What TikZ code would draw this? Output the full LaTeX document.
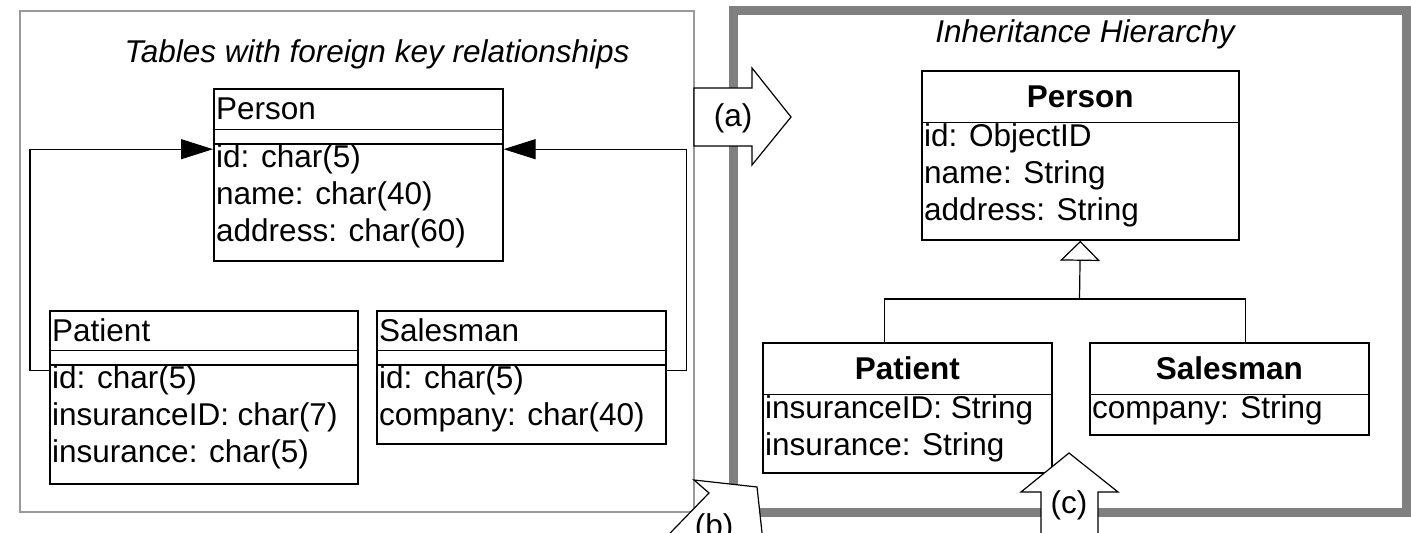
\documentclass[tikz,border=0pt]{standalone}
\usepackage{fontspec}
\setmainfont{Liberation Sans}
\usetikzlibrary{shapes.multipart,arrows.meta}
\newcommand{\namecell}[3]{\parbox[c][#2][c]{#1}{\hspace*{1.2pt}#3}}
\newcommand{\classcell}[3]{\parbox[c][#2][c]{#1}{\centering\bfseries #3}}
\newcommand{\emptycell}[2]{\parbox[c][#2][c]{#1}{}}
\newcommand{\attrcell}[3]{\parbox[c][#2][t]{#1}{\raggedright\leftskip=1.2pt #3}}

\begin{document}
\begin{tikzpicture}[
        x=0.5pt, y=-0.5pt,
        every node/.style={inner sep=0pt,font=\fontsize{15.75}{18.5}\selectfont},
        caption/.style={font=\fontsize{15.75}{18.5}\selectfont\itshape},
        relbox/.style={rectangle split, rectangle split parts=#1, draw, line width=0.8pt, anchor=north west},
        lframe/.style={draw=black!40, line width=0.8pt},
        rframe/.style={draw=gray, line width=4.5pt},
        fk/.style={line width=0.6pt, -{Triangle[length=16pt,width=10pt]}},
        gen/.style={line width=0.6pt},
        blockarrow/.style={draw, fill=white, line width=0.6pt},
      ]
      \useasboundingbox (0,0) rectangle (1411,533);
      \clip (0,0) rectangle (1411,533);

      % frames
      \draw[lframe] (20,11) rectangle (694,512);
      \draw[rframe] (733,11) rectangle (1406.5,512);
      \node[caption] (ltitle) at (377,54) {Tables with foreign key relationships};
      \node[caption] (rtitle) at (1085,34) {Inheritance Hierarchy};

      % relational tables
      \node[relbox=3] (lperson) at (213,88)
        {\namecell{144.5pt}{19.5pt}{Person}\nodepart{two}\emptycell{144.5pt}{6pt}%
         \nodepart{three}\attrcell{144.5pt}{57.5pt}{id: char(5)\\name: char(40)\\address: char(60)}};
      \node[relbox=3] (lpatient) at (49,310)
        {\namecell{154pt}{19pt}{Patient}\nodepart{two}\emptycell{154pt}{6pt}%
         \nodepart{three}\attrcell{154pt}{58.5pt}{id: char(5)\\insuranceID: char(7)\\insurance: char(5)}};
      \node[relbox=3] (lsalesman) at (376,310)
        {\namecell{144.5pt}{19pt}{Salesman}\nodepart{two}\emptycell{144.5pt}{6pt}%
         \nodepart{three}\attrcell{144.5pt}{38.5pt}{id: char(5)\\company: char(40)}};

      \draw[fk] ([yshift=-2.5pt]lpatient.two split west) -- ++(-19,0)
        |- ([yshift=-2.5pt]lperson.two split west);
      \draw[fk] ([yshift=-2.5pt]lsalesman.two split east) -- ++(20,0)
        |- ([yshift=-2.5pt]lperson.two split east);

      % classes
      \node[relbox=2] (rperson) at (921,70)
        {\classcell{158.5pt}{25pt}{Person}%
         \nodepart{two}\attrcell{158.5pt}{58pt}{id: ObjectID\\name: String\\address: String}};
      \node[relbox=2] (rpatient) at (762,342)
        {\classcell{144.5pt}{25pt}{Patient}%
         \nodepart{two}\attrcell{144.5pt}{38.5pt}{insuranceID: String\\insurance: String}};
      \node[relbox=2] (rsalesman) at (1089,342)
        {\classcell{139.5pt}{25pt}{Salesman}%
         \nodepart{two}\attrcell{139.5pt}{19.5pt}{company: String}};

      \coordinate (fork) at (1079.5,299);
      \draw[gen] ([xshift=-11.25pt]rpatient.north) |- (fork) -| ([xshift=8.25pt]rsalesman.north);
      \draw[gen, -{Triangle[open,length=10pt,width=20pt]}] (fork) -- (rperson.south);

      % mapping arrows
      \draw[blockarrow] (694,88) -- (752,88) -- (752,68) -- (791,117) -- (752,165)
        -- (752,146) -- (694,146) -- cycle;
      \node (alabel) at (733,118) {(a)};
      \draw[blockarrow] (694,480) -- (757,487) -- (765,560) -- (644,560) -- (709,493) -- cycle;
      \node (blabel) at (714,528) {(b)};
      \draw[blockarrow] (1069,453) -- (1118,492) -- (1098,492) -- (1098,560) -- (1041,560)
        -- (1041,492) -- (1021,492) -- cycle;
      \node (clabel) at (1069,505) {(c)};
\end{tikzpicture}
\end{document}
